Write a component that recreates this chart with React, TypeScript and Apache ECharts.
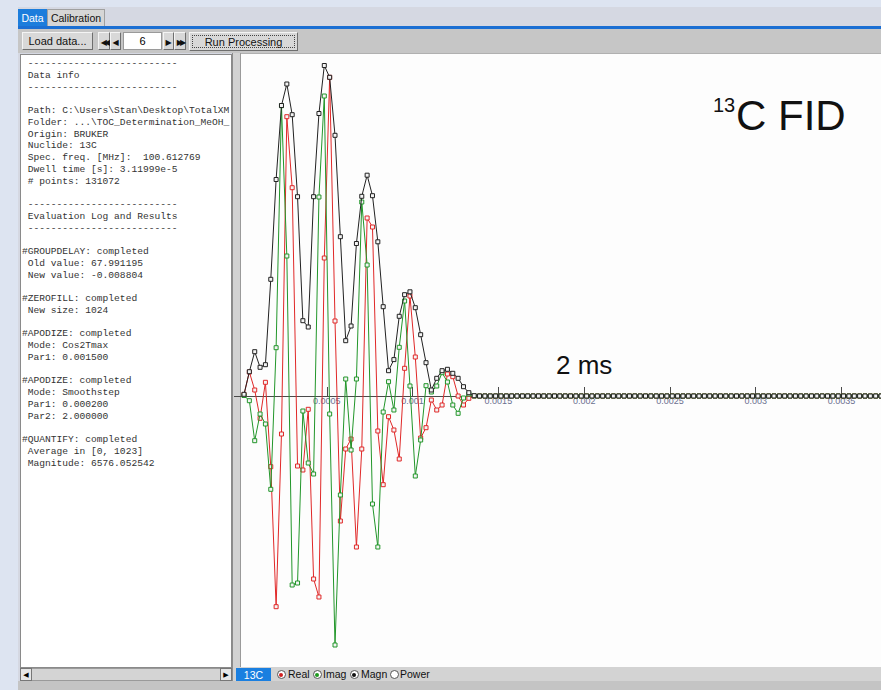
import React, { useEffect, useRef } from "react";
import * as echarts from "echarts";

// ---- acquisition info ----
const dwellTime = 3.11999e-5; // s
const firstSampleTime = 0.0000175; // s (residual group-delay shift)

// ---- FID samples (arbitrary units), first points with signal ----
const realPart = [1.5, 24, 6, -22.3, 13.7, -70.7, -210.7, -38, 279.3, 208.3, -70, -74, -13.3, -183, -201, 138, 318.7, 75, -125, -53, -43, -151, -53, 178, 169, -35, -88.7, -20.7, -34, -63, 27.7, 100, 39, -42, -31.7, -4, -14, -9, 22, 19.3, 0, -9, -2.3, 0];
const imagPart = [0.5, -4.7, -44.7, -18, -28, -93.3, 48.3, 290.3, 140, -189, -187, -15, -67, -78, 199, 300, -18, -249, -99, 17, -54, 17, 194, 131, -108, -151, -16, 14.3, -14, 48.7, 95, 10, -80, -44, 10.3, 4, 10, 23.3, 14, -9, -17.3, -2, 2, 0];
const magnPart = [1.7, 24.3, 44.3, 28.7, 31.3, 116.7, 216.5, 290.5, 312, 281.3, 199.3, 75.3, 69, 199.3, 282.5, 330.5, 318.7, 260.7, 159.3, 55.3, 70, 152.5, 199.7, 220.8, 200.3, 154.2, 89.3, 25.3, 36.4, 79.7, 101.3, 104.2, 88.3, 61.3, 33.3, 6, 17.7, 25.3, 26.7, 22.7, 17.7, 9.3, 3.3, 0.3];
// zero-filled tail (visible part)
const zeroTail = [0,0,0,0,0,0,0,0,0,0,0,0,0,0,0,0,0,0,0,0,0,0,0,0,0,0,0,0,0,0,0,0,0,0,0,0,0,0,0,0,0,0,0,0,0,0,0,0,0,0,0,0,0,0,0,0,0,0,0,0,0,0,0,0,0,0,0,0,0,0,0,0,0,0,0,0,0];

// ---- axis ----
const xTickInterval = 0.0005;
const xMin = 0;
const xMax = 0.00373;
// y axis: upper half-plane shown in the grid; negative samples drawn below the time axis
const yMin = 0;
const yMax = 343;
const yBelowAxis = 271; // plot height (a.u.) kept below the zero line

const infoLines = [
  " --------------------------",
  " Data info",
  " --------------------------",
  "",
  " Path: C:\\Users\\Stan\\Desktop\\TotalXM",
  " Folder: ...\\TOC_Determination_MeOH_",
  " Origin: BRUKER",
  " Nuclide: 13C",
  " Spec. freq. [MHz]:  100.612769",
  " Dwell time [s]: 3.11999e-5",
  " # points: 131072",
  "",
  " --------------------------",
  " Evaluation Log and Results",
  " --------------------------",
  "",
  "#GROUPDELAY: completed",
  " Old value: 67.991195",
  " New value: -0.008804",
  "",
  "#ZEROFILL: completed",
  " New size: 1024",
  "",
  "#APODIZE: completed",
  " Mode: Cos2Tmax",
  " Par1: 0.001500",
  "",
  "#APODIZE: completed",
  " Mode: Smoothstep",
  " Par1: 0.000200",
  " Par2: 2.000000",
  "",
  "#QUANTIFY: completed",
  " Average in [0, 1023]",
  " Magnitude: 6576.052542",
];

function toPairs(values: number[]) {
  const all = values.concat(zeroTail);
  return all.map((v, i) => [firstSampleTime + i * dwellTime, v]);
}

const abs = (s: React.CSSProperties): React.CSSProperties => ({ position: "absolute", boxSizing: "border-box", ...s });

function Btn({ x, y, w, h, children, dotted }: any) {
  return (
    <div style={abs({ left: x, top: y, width: w, height: h, background: "#d8d8d8", borderTop: "1px solid #f4f4f4", borderLeft: "1px solid #f4f4f4", borderRight: "1px solid #6e6e6e", borderBottom: "1px solid #6e6e6e", font: "11px 'Liberation Sans', Arial, sans-serif", color: "#111", display: "flex", alignItems: "center", justifyContent: "center" })}>
      {dotted ? <div style={abs({ left: 2, top: 2, right: 2, bottom: 2, border: "1px dotted #444" })} /> : null}
      <span style={{ position: "relative" }}>{children}</span>
    </div>
  );
}

const PLOT_H = 614;

export default function App() {
  const ref = useRef<HTMLDivElement>(null);
  useEffect(() => {
    const chart = echarts.init(ref.current!, null, { renderer: "svg" });
    const mk = (name: string, data: number[], color: string, z: number) => ({
      name,
      type: "line",
      data: toPairs(data),
      symbol: "rect",
      symbolSize: 4,
      showAllSymbol: true,
      clip: false,
      z,
      lineStyle: { color, width: 1 },
      itemStyle: { color: "#f4f4f4", borderColor: color, borderWidth: 1 },
      emphasis: { disabled: true },
    });
    // grid height in px equals (yMax - yMin) so 1 a.u. = 1 px; remaining height below for negatives
    const gridBottom = PLOT_H - (yMax - yMin);
    chart.setOption({
      animation: false,
      grid: { left: 0, right: 0, top: 0, bottom: gridBottom, containLabel: false, outerBoundsMode: "none" },
      xAxis: {
        type: "value",
        min: xMin,
        max: xMax,
        interval: xTickInterval,
        axisLine: { onZero: false, lineStyle: { color: "#4a4a4a", width: 1 } },
        axisTick: { show: true, inside: true, length: 9, lineStyle: { color: "#4a4a4a" } },
        axisLabel: { showMinLabel: false, showMaxLabel: false, fontSize: 9, color: "#6b7090", margin: 0, fontFamily: "'Liberation Sans', Arial, sans-serif" },
        splitLine: { show: false },
        z: 1,
      },
      yAxis: {
        type: "value",
        min: yMin,
        max: yMax,
        show: false,
      },
      graphic: [
        { type: "text", left: 472, top: 42, style: { text: "13", font: "20px 'Liberation Sans', Arial, sans-serif", fill: "#111" } },
        { type: "text", left: 495, top: 41, style: { text: "C FID", font: "42px 'Liberation Sans', Arial, sans-serif", fill: "#111" } },
        { type: "text", left: 315, top: 299, style: { text: "2 ms", font: "26px 'Liberation Sans', Arial, sans-serif", fill: "#111" } },
      ],
      series: [
        mk("Real", realPart, "#e02828", 2),
        mk("Imag", imagPart, "#22962a", 3),
        mk("Magn", magnPart, "#222222", 4),
      ],
    });
    return () => chart.dispose();
  }, []);

  const radio = (cx: number, dot: string | null) => (
    <div style={abs({ left: cx - 4.5, top: 670, width: 9, height: 9, borderRadius: "50%", background: "#fff", border: "1px solid #555" })}>
      {dot ? <div style={abs({ left: 1.5, top: 1.5, width: 4, height: 4, borderRadius: "50%", background: dot })} /> : null}
    </div>
  );
  const statusText = (x: number, t: string) => (
    <div style={abs({ left: x, top: 668, height: 13, lineHeight: "13px", font: "10.5px 'Liberation Sans', Arial, sans-serif", color: "#111" })}>{t}</div>
  );

  return (
    <div style={{ position: "fixed", left: 0, top: 0, width: 881, height: 690, overflow: "hidden", background: "#dde4f1" }}>
      {/* window */}
      <div style={abs({ left: 18, top: 7, width: 880, height: 690, background: "#d5d8e2" })} />
      {/* tabs */}
      <div style={abs({ left: 18, top: 9, width: 29, height: 18, background: "#1c7ddc", color: "#fff", font: "10.5px 'Liberation Sans', Arial, sans-serif", display: "flex", alignItems: "center", justifyContent: "center" })}>Data</div>
      <div style={abs({ left: 47, top: 9, width: 58, height: 18, background: "#d6d6d6", border: "1px solid #a0a0a0", color: "#111", font: "10.5px 'Liberation Sans', Arial, sans-serif", display: "flex", alignItems: "center", justifyContent: "center" })}>Calibration</div>
      <div style={abs({ left: 18, top: 26, width: 870, height: 3, background: "#1b6fd3" })} />
      {/* toolbar */}
      <div style={abs({ left: 18, top: 29, width: 870, height: 24, background: "#c6c6c6" })} />
      <Btn x={22} y={32} w={71} h={18}>Load data...</Btn>
      <Btn x={98} y={32} w={12} h={18}><span style={{ fontSize: 8, fontFamily: "'DejaVu Sans'", letterSpacing: -3 }}>◀◀</span></Btn>
      <Btn x={110} y={32} w={11} h={18}><span style={{ fontSize: 8, fontFamily: "'DejaVu Sans'" }}>◀</span></Btn>
      <div style={abs({ left: 123, top: 32, width: 39, height: 18, background: "#fff", border: "1px solid #9a9a9a", font: "11px 'Liberation Sans', Arial, sans-serif", display: "flex", alignItems: "center", justifyContent: "center" })}>6</div>
      <Btn x={163} y={32} w={11} h={18}><span style={{ fontSize: 8, fontFamily: "'DejaVu Sans'" }}>▶</span></Btn>
      <Btn x={174} y={32} w={12} h={18}><span style={{ fontSize: 8, fontFamily: "'DejaVu Sans'", letterSpacing: -3 }}>▶▶</span></Btn>
      <Btn x={189} y={32} w={109} h={19} dotted>Run Processing</Btn>
      {/* left text panel */}
      <div style={abs({ left: 20, top: 54, width: 212, height: 614, background: "#fff", border: "1px solid #8a8a8a", overflow: "hidden" })}>
        <div style={abs({ left: 1, top: 3, font: "9.6px 'Liberation Mono', 'Courier New', monospace", lineHeight: "11.75px", color: "#333", whiteSpace: "pre" })}>
          {infoLines.map((l, i) => (
            <div key={i} style={{ height: 11.75 }}>{l}</div>
          ))}
        </div>
      </div>
      {/* left scrollbar */}
      <div style={abs({ left: 20, top: 668, width: 212, height: 13, background: "#d4d4d4", border: "1px solid #9a9a9a" })} />
      <div style={abs({ left: 20, top: 668, width: 12, height: 13, background: "#e6e6e6", border: "1px solid #777", fontSize: 7, fontFamily: "'DejaVu Sans'", display: "flex", alignItems: "center", justifyContent: "center" })}>◀</div>
      <div style={abs({ left: 220, top: 668, width: 12, height: 13, background: "#e6e6e6", border: "1px solid #777", fontSize: 7, fontFamily: "'DejaVu Sans'", display: "flex", alignItems: "center", justifyContent: "center" })}>▶</div>
      {/* splitter */}
      <div style={abs({ left: 232, top: 53, width: 9, height: 628, background: "#d2d2d2", borderLeft: "1px solid #8c8c8c", borderRight: "1px solid #9a9a9a" })} />
      {/* plot background */}
      <div style={abs({ left: 241, top: 53, width: 640, height: PLOT_H, background: "#fdfdfd", borderTop: "1px solid #b0b0b0" })} />
      <div style={abs({ left: 234, top: 396, width: 8, height: 1, background: "#4a4a4a" })} />
      <div ref={ref} style={abs({ left: 241, top: 53, width: 640, height: PLOT_H })} />
      {/* status bar */}
      <div style={abs({ left: 235, top: 667, width: 660, height: 14, background: "#d3d3d3" })} />
      <div style={abs({ left: 236, top: 668, width: 35, height: 13, background: "#1a7fe0", color: "#fff", font: "10.5px 'Liberation Sans', Arial, sans-serif", display: "flex", alignItems: "center", justifyContent: "center" })}>13C</div>
      {radio(281, "#d02020")}
      {statusText(288, "Real")}
      {radio(317, "#1f9a1f")}
      {statusText(323, "Imag")}
      {radio(354, "#111")}
      {statusText(361, "Magn")}
      {radio(394, null)}
      {statusText(400, "Power")}
      {/* bottom strip */}
      <div style={abs({ left: 18, top: 681, width: 870, height: 9, background: "#c4c4c4" })} />
    </div>
  );
}
